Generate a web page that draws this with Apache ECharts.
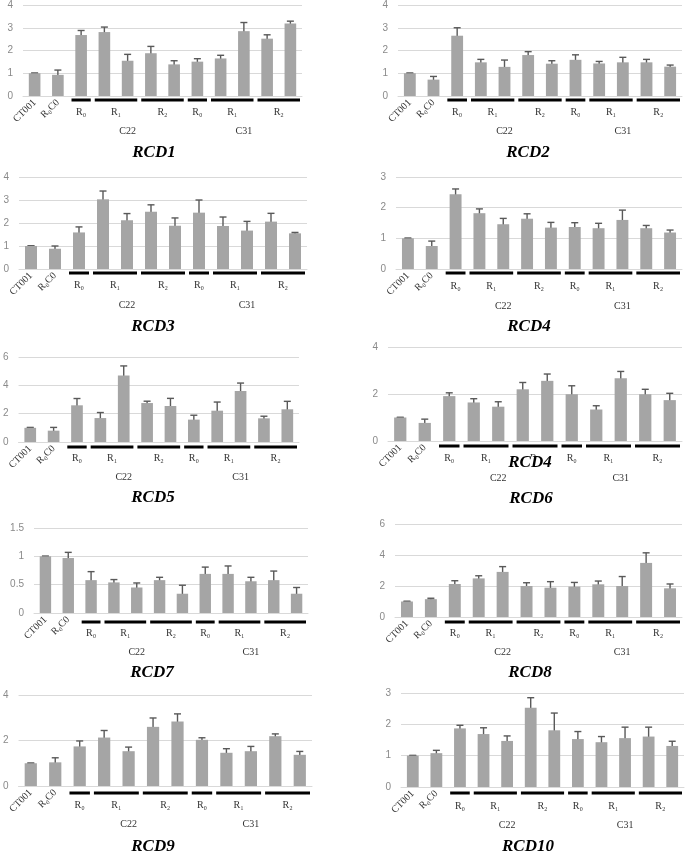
<!DOCTYPE html>
<html>
<head>
<meta charset="utf-8">
<script src="https://cdn.jsdelivr.net/npm/echarts@6/dist/echarts.min.js"></script>
<style>
html,body{margin:0;padding:0;background:#fff;}
#main{width:685px;height:852px;}
</style>
</head>
<body>
<div id="main"></div>
<script>
// ---------- DATA ----------
const categories = ['CT001', 'R₀C0', 'C22 R₀', 'C22 R₁ a', 'C22 R₁ b', 'C22 R₂ a', 'C22 R₂ b',
                    'C31 R₀', 'C31 R₁ a', 'C31 R₁ b', 'C31 R₂ a', 'C31 R₂ b'];
const shownLabels = ['CT001', 'R₀C0'];
const subGroups = [['R₀', 2, 2], ['R₁', 3, 4], ['R₂', 5, 6], ['R₀', 7, 7], ['R₁', 8, 9], ['R₂', 10, 11]];
const mainGroups = [['C22', 2, 6], ['C31', 7, 11]];
const panelNames = ['RCD1', 'RCD2', 'RCD3', 'RCD4', 'RCD5', 'RCD6', 'RCD7', 'RCD8', 'RCD9', 'RCD10'];

const rcd1Mean = [1.00, 0.93, 2.68, 2.81, 1.55, 1.88, 1.39, 1.51, 1.65, 2.85, 2.52, 3.19];
const rcd1Err  = [0.01, 0.21, 0.20, 0.22, 0.28, 0.30, 0.16, 0.13, 0.14, 0.38, 0.17, 0.10];
const rcd2Mean = [1.00, 0.72, 2.65, 1.48, 1.28, 1.80, 1.42, 1.59, 1.43, 1.48, 1.48, 1.29];
const rcd2Err  = [0.01, 0.14, 0.35, 0.13, 0.30, 0.15, 0.13, 0.22, 0.09, 0.22, 0.13, 0.07];
const rcd3Mean = [1.00, 0.88, 1.59, 3.03, 2.12, 2.49, 1.88, 2.45, 1.87, 1.67, 2.06, 1.55];
const rcd3Err  = [0.01, 0.12, 0.24, 0.36, 0.29, 0.30, 0.34, 0.55, 0.39, 0.40, 0.36, 0.04];
const rcd4Mean = [1.00, 0.75, 2.44, 1.82, 1.46, 1.64, 1.35, 1.37, 1.33, 1.60, 1.33, 1.19];
const rcd4Err  = [0.01, 0.16, 0.17, 0.14, 0.19, 0.16, 0.17, 0.14, 0.16, 0.32, 0.09, 0.08];
const rcd5Mean = [1.00, 0.80, 2.59, 1.69, 4.70, 2.75, 2.54, 1.58, 2.21, 3.60, 1.67, 2.31];
const rcd5Err  = [0.03, 0.23, 0.48, 0.39, 0.67, 0.13, 0.54, 0.31, 0.61, 0.56, 0.15, 0.56];
const rcd6Mean = [1.00, 0.77, 1.91, 1.64, 1.46, 2.20, 2.56, 1.99, 1.34, 2.67, 1.99, 1.74];
const rcd6Err  = [0.01, 0.16, 0.14, 0.16, 0.21, 0.29, 0.29, 0.36, 0.16, 0.29, 0.21, 0.29];
const rcd7Mean = [1.00, 0.97, 0.58, 0.54, 0.45, 0.58, 0.34, 0.69, 0.69, 0.56, 0.58, 0.34];
const rcd7Err  = [0.004, 0.10, 0.15, 0.05, 0.08, 0.05, 0.15, 0.12, 0.14, 0.07, 0.16, 0.11];
const rcd8Mean = [1.00, 1.15, 2.13, 2.49, 2.91, 2.00, 1.89, 1.96, 2.11, 2.00, 3.49, 1.85];
const rcd8Err  = [0.02, 0.06, 0.21, 0.17, 0.34, 0.21, 0.39, 0.27, 0.21, 0.61, 0.65, 0.28];
const rcd9Mean = [1.00, 1.04, 1.74, 2.13, 1.53, 2.60, 2.83, 2.03, 1.46, 1.53, 2.19, 1.37];
const rcd9Err  = [0.01, 0.20, 0.24, 0.31, 0.18, 0.39, 0.34, 0.09, 0.18, 0.21, 0.10, 0.15];
const rcd10Mean = [1.00, 1.08, 1.87, 1.69, 1.47, 2.53, 1.81, 1.53, 1.43, 1.56, 1.61, 1.31];
const rcd10Err  = [0.01, 0.09, 0.10, 0.20, 0.16, 0.32, 0.55, 0.24, 0.18, 0.35, 0.30, 0.15];

const means = [rcd1Mean, rcd2Mean, rcd3Mean, rcd4Mean, rcd5Mean, rcd6Mean, rcd7Mean, rcd8Mean, rcd9Mean, rcd10Mean];
const errs  = [rcd1Err, rcd2Err, rcd3Err, rcd4Err, rcd5Err, rcd6Err, rcd7Err, rcd8Err, rcd9Err, rcd10Err];
const yMaxes = [4, 4, 4, 3, 6, 4, 1.5, 6, 4, 3];
const yIntervals = [1, 1, 1, 1, 2, 2, 0.5, 2, 2, 1];

// ---------- LAYOUT ----------
const layout = [
  {left: 23,  top: 4,   width: 279, height: 92, ul: 4, rl: 16, cl: 35, tx: 154, ty: 153},
  {left: 398, top: 4,   width: 284, height: 92, ul: 4, rl: 16, cl: 35, tx: 528, ty: 153},
  {left: 19,  top: 177, width: 288, height: 92, ul: 4, rl: 16, cl: 36, tx: 153, ty: 327},
  {left: 396, top: 177, width: 286, height: 92, ul: 4, rl: 17, cl: 37, tx: 529, ty: 327},
  {left: 16,  top: 357, width: 283, height: 85, ul: 5, rl: 16, cl: 35, tx: 153, ty: 498},
  {left: 388, top: 347, width: 294, height: 94, ul: 5, rl: 17, cl: 37, tx: 531, ty: 499},
  {left: 34,  top: 528, width: 274, height: 85, ul: 9, rl: 20, cl: 39, tx: 152, ty: 673},
  {left: 395, top: 524, width: 287, height: 93, ul: 5, rl: 16, cl: 35, tx: 530, ty: 673},
  {left: 18,  top: 695, width: 294, height: 91, ul: 7, rl: 19, cl: 38, tx: 153, ty: 847},
  {left: 401, top: 693, width: 283, height: 94, ul: 6, rl: 19, cl: 38, tx: 528, ty: 847}
];

const BAR = '#a5a5a5', ERR = '#595959', GRID = '#d9d9d9';
const SERIF = '"Liberation Serif", "DejaVu Serif", serif';

const chart = echarts.init(document.getElementById('main'), null, {renderer: 'canvas'});

const grids = [], xAxes = [], yAxes = [], series = [], graphics = [];

layout.forEach((L, i) => {
  grids.push({left: L.left, top: L.top, width: L.width, height: L.height, containLabel: false});
  xAxes.push({
    type: 'category', gridIndex: i, data: categories,
    axisLine: {show: true, lineStyle: {color: GRID, width: 1}},
    axisTick: {show: false},
    axisLabel: {
      interval: 0, rotate: 45, margin: 5,
      fontFamily: SERIF, fontSize: 10, color: '#333',
      formatter: (v, idx) => idx < shownLabels.length ? shownLabels[idx] : ''
    }
  });
  yAxes.push({
    type: 'value', gridIndex: i, min: 0, max: yMaxes[i], interval: yIntervals[i],
    axisLine: {show: false}, axisTick: {show: false},
    splitLine: {lineStyle: {color: GRID, width: 1}},
    axisLabel: {fontFamily: '"Liberation Sans", sans-serif', fontSize: 10, color: '#8a8a8a', margin: 10}
  });
  series.push({
    type: 'bar', xAxisIndex: i, yAxisIndex: i, data: means[i],
    barWidth: '50%', itemStyle: {color: BAR}, silent: true
  });
  series.push({
    type: 'custom', xAxisIndex: i, yAxisIndex: i, silent: true,
    data: means[i].map((m, k) => [k, m, errs[i][k]]),
    encode: {x: 0, y: 1},
    renderItem: (params, api) => {
      const x = api.value(0), m = api.value(1), e = api.value(2);
      const t = api.coord([x, m + e]), b = api.coord([x, m - e]);
      const hw = 3.5;
      const st = {stroke: ERR, lineWidth: 1.4};
      return {type: 'group', children: [
        {type: 'line', shape: {x1: t[0], y1: t[1], x2: b[0], y2: b[1]}, style: st},
        {type: 'line', shape: {x1: t[0] - hw, y1: t[1], x2: t[0] + hw, y2: t[1]}, style: st},
        {type: 'line', shape: {x1: b[0] - hw, y1: b[1], x2: b[0] + hw, y2: b[1]}, style: st}
      ]};
    }
  });
  // sub-group underlines + R labels
  series.push({
    type: 'custom', xAxisIndex: i, yAxisIndex: i, silent: true,
    data: subGroups.map(g => [g[1], g[2], 0]),
    encode: {x: 0, y: 2},
    renderItem: (params, api) => {
      const g = subGroups[params.dataIndex];
      const a = api.coord([api.value(0), 0]), b = api.coord([api.value(1), 0]);
      const bw = api.size([1, 0])[0];
      const x1 = a[0] - bw / 2 + 2, x2 = b[0] + bw / 2 - 2;
      return {type: 'group', children: [
        {type: 'rect', shape: {x: x1, y: a[1] + L.ul - 1.5, width: x2 - x1, height: 3}, style: {fill: '#000'}},
        {type: 'text', style: {text: g[0], x: (x1 + x2) / 2, y: a[1] + L.rl, align: 'center', verticalAlign: 'middle',
          font: '10px ' + SERIF, fill: '#333'}}
      ]};
    }
  });
  // main group labels
  series.push({
    type: 'custom', xAxisIndex: i, yAxisIndex: i, silent: true,
    data: mainGroups.map(g => [g[1], g[2], 0]),
    encode: {x: 0, y: 2},
    renderItem: (params, api) => {
      const g = mainGroups[params.dataIndex];
      const a = api.coord([api.value(0), 0]), b = api.coord([api.value(1), 0]);
      const bw = api.size([1, 0])[0];
      const cx = ((a[0] - bw / 2) + (b[0] + bw / 2)) / 2;
      return {type: 'text', style: {text: g[0], x: cx, y: a[1] + L.cl, align: 'center', verticalAlign: 'middle',
        font: '10px ' + SERIF, fill: '#333'}};
    }
  });
  graphics.push({
    type: 'text', left: null, x: L.tx, y: L.ty, silent: true,
    style: {text: panelNames[i], align: 'center', verticalAlign: 'middle',
      font: 'italic bold 17px ' + SERIF, fill: '#000'}
  });
});

// stray overlaid label present in the reference (panel RCD6)
graphics.push({
  type: 'text', x: 530, y: 463, silent: true, z: 100,
  style: {text: 'RCD4', align: 'center', verticalAlign: 'middle',
    font: 'italic bold 17px ' + SERIF, fill: '#000', backgroundColor: '#fff', padding: [0, 1], lineHeight: 13}
});

chart.setOption({
  animation: false,
  grid: grids, xAxis: xAxes, yAxis: yAxes, series: series,
  graphic: {elements: graphics}
});
</script>
</body>
</html>
